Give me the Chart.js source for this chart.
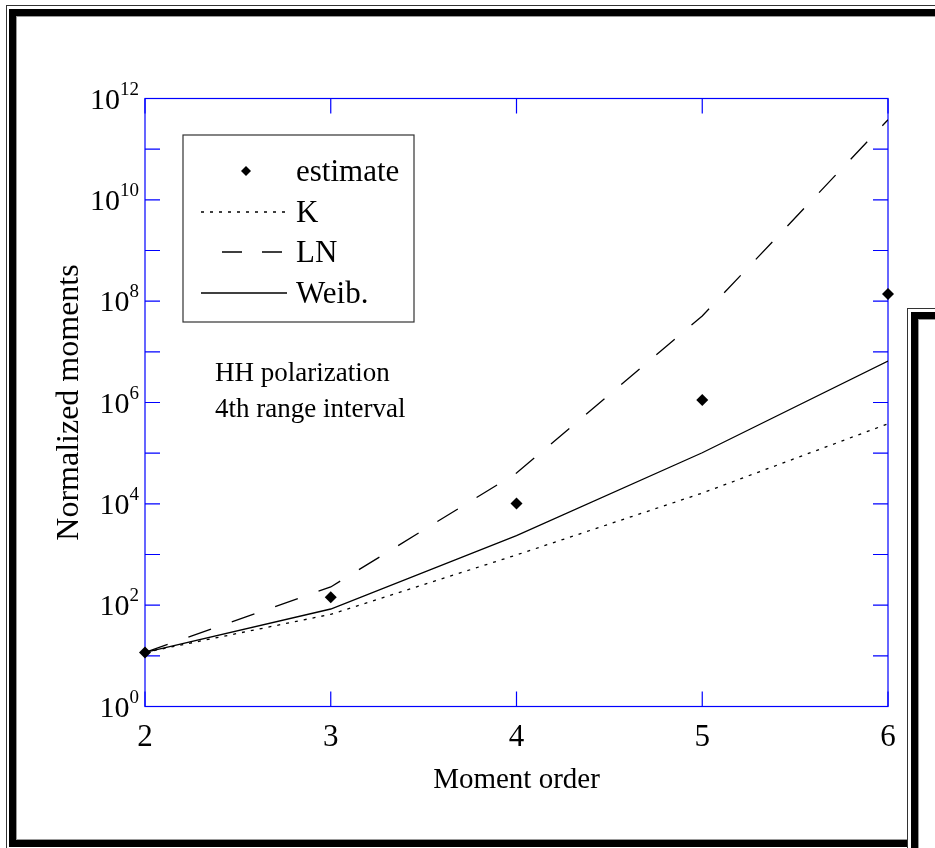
<!DOCTYPE html>
<html>
<head>
<meta charset="utf-8">
<title>Normalized moments</title>
<script src="https://cdn.jsdelivr.net/npm/chart.js@4/dist/chart.umd.min.js"></script>
<style>
  html, body { margin: 0; padding: 0; background: #fff; }
  #wrap { position: relative; width: 935px; height: 848px; overflow: hidden; background: #fff; }
  #c { position: absolute; left: 0; top: 0; }
  /* scanned-looking double frames */
  .thin  { position: absolute; border: 1.5px solid #333; box-sizing: border-box; }
  .thick { position: absolute; border: 7px solid #000; box-sizing: border-box; box-shadow: inset 0 0 0 1px #999; }
  .cover { position: absolute; background: #fff; }
</style>
</head>
<body>
<div id="wrap">
  <canvas id="c" width="935" height="848"></canvas>
  <div class="thin"  style="left:6px;top:5px;width:1000px;height:1000px;"></div>
  <div class="thick" style="left:9px;top:9px;width:1000px;height:838px;"></div>
  <div class="cover" style="left:907px;top:308px;width:40px;height:560px;"></div>
  <div class="thin"  style="left:907px;top:308px;width:200px;height:600px;"></div>
  <div class="thick" style="left:911px;top:312px;width:200px;height:600px;"></div>
</div>
<script>
/* ----------------------------------------------------------
   Data
   ---------------------------------------------------------- */
const orders      = [2, 3, 4, 5, 6];
const estimate    = [11.7, 143, 1.02e4, 1.12e6, 1.38e8];
const momentsK    = [11.7, 66, 980, 1.63e4, 3.8e5];
const momentsLN   = [11.7, 229, 4.05e4, 5.1e7, 3.8e11];
const momentsWeib = [11.7, 84, 2350, 1.02e5, 6.6e6];

const xTicks      = [2, 3, 4, 5, 6];
const yTickExps   = [0, 1, 2, 3, 4, 5, 6, 7, 8, 9, 10, 11, 12];
const yLabelExps  = [0, 2, 4, 6, 8, 10, 12];

const legendLabels = ['estimate', 'K', 'LN', 'Weib.'];
const noteLines    = ['HH polarization', '4th range interval'];

/* ----------------------------------------------------------
   Style
   ---------------------------------------------------------- */
const SERIF = "'Liberation Serif', 'Times New Roman', serif";
const AXIS_BLUE = '#0000ff';
const INK = '#000';

function pts(values) {
  return orders.map((o, i) => ({ x: o, y: values[i] }));
}

/* ----------------------------------------------------------
   Plugin: axis box, inward ticks, y labels, legend, note
   ---------------------------------------------------------- */
const paperPlot = {
  id: 'paperPlot',
  beforeDatasetsDraw(chart) {
    const { ctx, chartArea: a, scales: { x, y } } = chart;
    const TL = 15;
    ctx.save();
    ctx.strokeStyle = AXIS_BLUE;
    ctx.lineWidth = 1.2;
    ctx.strokeRect(a.left, a.top, a.right - a.left, a.bottom - a.top);
    ctx.beginPath();
    yTickExps.forEach(e => {
      const py = y.getPixelForValue(Math.pow(10, e));
      ctx.moveTo(a.left, py);  ctx.lineTo(a.left + TL, py);
      ctx.moveTo(a.right, py); ctx.lineTo(a.right - TL, py);
    });
    xTicks.forEach(v => {
      const px = x.getPixelForValue(v);
      ctx.moveTo(px, a.bottom); ctx.lineTo(px, a.bottom - TL);
      ctx.moveTo(px, a.top);    ctx.lineTo(px, a.top + TL);
    });
    ctx.stroke();
    ctx.restore();
  },
  afterDraw(chart) {
    const { ctx, scales: { y } } = chart;
    ctx.save();
    ctx.fillStyle = INK;
    ctx.textBaseline = 'alphabetic';
    ctx.textAlign = 'left';

    // y tick labels as 10 with superscript exponent
    yLabelExps.forEach(e => {
      const py = y.getPixelForValue(Math.pow(10, e));
      ctx.font = `30px ${SERIF}`;
      const bw = ctx.measureText('10').width;
      ctx.font = `19px ${SERIF}`;
      const ew = ctx.measureText(String(e)).width;
      const x0 = 139 - bw - ew;
      ctx.font = `30px ${SERIF}`;
      ctx.fillText('10', x0, py + 10);
      ctx.font = `19px ${SERIF}`;
      ctx.fillText(String(e), x0 + bw, py - 4);
    });

    // legend box
    ctx.strokeStyle = '#333';
    ctx.lineWidth = 1.2;
    ctx.strokeRect(183, 135, 231, 187);
    const rows = [171, 212, 252, 293];
    const ds = chart.data.datasets;
    ctx.font = `31px ${SERIF}`;
    rows.forEach((ry, i) => {
      const d = ds[i];
      if (i === 0) {
        ctx.beginPath();
        ctx.moveTo(246, ry - 5); ctx.lineTo(251, ry);
        ctx.lineTo(246, ry + 5); ctx.lineTo(241, ry);
        ctx.closePath();
        ctx.fill();
      } else {
        ctx.beginPath();
        ctx.strokeStyle = d.borderColor;
        ctx.lineWidth = d.borderWidth;
        ctx.setLineDash(i === 2 ? [20, 20] : d.borderDash);
        const x1 = i === 2 ? 222 : 201;
        ctx.moveTo(x1, ry); ctx.lineTo(i === 2 ? 282 : 287, ry);
        ctx.stroke();
        ctx.setLineDash([]);
      }
      ctx.fillText(legendLabels[i], 296, ry + 10);
    });

    // note
    ctx.font = `27px ${SERIF}`;
    ctx.fillText(noteLines[0], 215, 381);
    ctx.fillText(noteLines[1], 215, 417);
    ctx.restore();
  }
};

/* ----------------------------------------------------------
   Chart
   ---------------------------------------------------------- */
const lineBase = { borderColor: INK, borderWidth: 1.3, pointRadius: 0, tension: 0, fill: false };

new Chart(document.getElementById('c'), {
  type: 'line',
  data: {
    datasets: [
      { label: legendLabels[0], data: pts(estimate), showLine: false, pointStyle: 'rectRot',
        pointRadius: 6, backgroundColor: INK, borderColor: INK, borderWidth: 0, clip: false },
      { ...lineBase, label: legendLabels[1], data: pts(momentsK), borderDash: [3, 6] },
      { ...lineBase, label: legendLabels[2], data: pts(momentsLN), borderDash: [24, 22] },
      { ...lineBase, label: legendLabels[3], data: pts(momentsWeib), borderDash: [] },
    ],
  },
  options: {
    responsive: false,
    animation: false,
    layout: { padding: { left: 0, right: 47, top: 98.5, bottom: 0 } },
    plugins: { legend: { display: false }, tooltip: { enabled: false } },
    scales: {
      x: {
        type: 'linear', min: 2, max: 6,
        afterBuildTicks: s => { s.ticks = xTicks.map(v => ({ value: v })); },
        afterFit: s => { s.height = 848 - 706.5; },
        grid: { display: false, drawTicks: false },
        border: { display: false },
        ticks: { font: { family: SERIF, size: 31 }, color: INK, padding: 13, maxRotation: 0, autoSkip: false },
        title: { display: true, text: 'Moment order', color: INK,
                 font: { family: SERIF, size: 29 }, padding: { top: 0, bottom: 50 } },
      },
      y: {
        type: 'logarithmic', min: 1, max: 1e12,
        afterBuildTicks: s => { s.ticks = yTickExps.map(e => ({ value: Math.pow(10, e) })); },
        afterFit: s => { s.width = 145; },
        grid: { display: false, drawTicks: false },
        border: { display: false },
        ticks: { display: false },
        title: { display: true, text: 'Normalized moments', color: INK,
                 font: { family: SERIF, size: 32 }, padding: { top: 50, bottom: 0 } },
      },
    },
  },
  plugins: [paperPlot],
});
</script>
</body>
</html>
